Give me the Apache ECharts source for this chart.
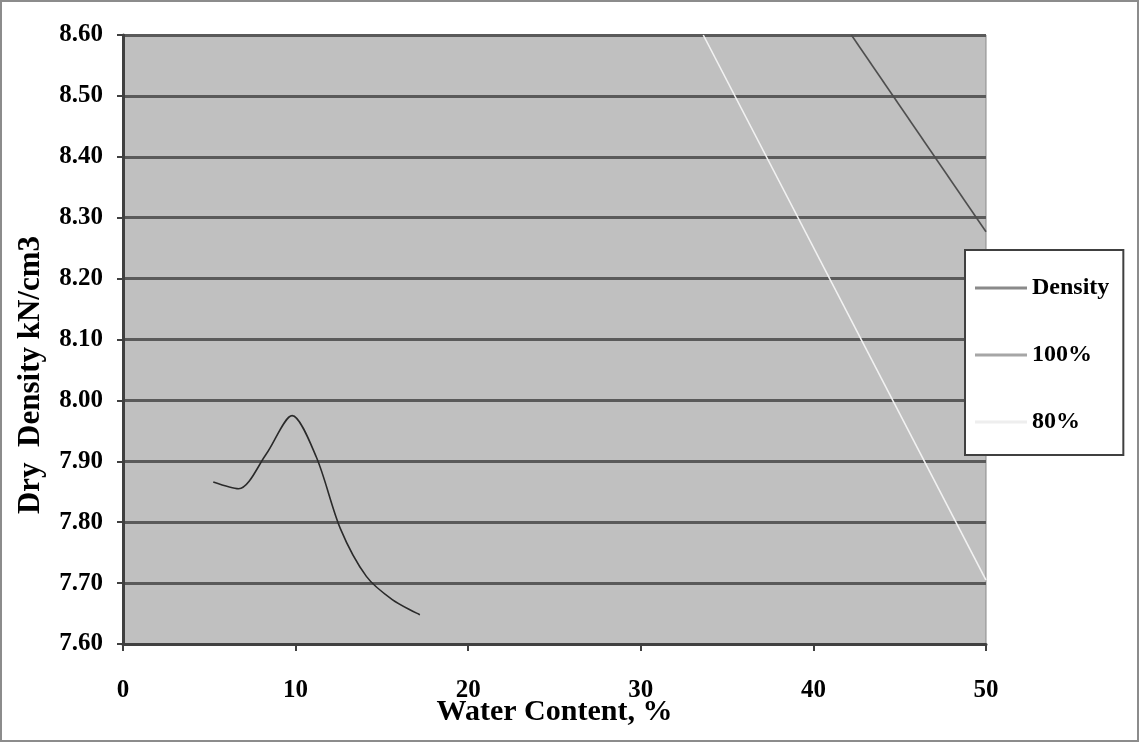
<!DOCTYPE html>
<html>
<head>
<meta charset="utf-8">
<title>Dry Density vs Water Content</title>
<script src="https://cdn.jsdelivr.net/npm/echarts@6/dist/echarts.min.js"></script>
<style>
  html, body { margin: 0; padding: 0; background: #ffffff; }
  #chart { width: 1139px; height: 742px; }
</style>
</head>
<body>
<div id="chart"></div>
<script>
// Compaction curve: water content (%) vs dry density (kN/cm3)
const densityW = [5.23, 6.7, 8.3, 9.8, 11.2, 12.6, 14.1, 15.6, 17.2];
const densityD = [7.866, 7.855, 7.912, 7.975, 7.907, 7.789, 7.711, 7.673, 7.648];

// Saturation lines (100% and 80%)
const sat100W = [42.2, 50];
const sat100D = [8.60, 8.277];
const sat80W = [33.62, 50];
const sat80D = [8.60, 7.705];

const seriesNames = ['Density', '100%', '80%'];
const xTicks = [0, 10, 20, 30, 40, 50];
const yMin = 7.6, yMax = 8.6, yStep = 0.1;

const pairs = (xs, ys) => xs.map((x, i) => [x, ys[i]]);
const serif = 'Liberation Serif, Times New Roman, serif';

const chart = echarts.init(document.getElementById('chart'), null, { renderer: 'canvas' });

chart.setOption({
  animation: false,
  backgroundColor: '#ffffff',
  grid: {
    left: 123, right: 153, top: 35, bottom: 98,
    show: true,
    backgroundColor: '#c0c0c0',
    borderColor: '#8a8a8a',
    borderWidth: 1
  },
  xAxis: {
    type: 'value',
    min: xTicks[0], max: xTicks[xTicks.length - 1], interval: 10,
    name: 'Water Content, %',
    nameLocation: 'middle',
    nameGap: 53,
    nameMoveOverlap: false,
    nameTextStyle: { fontFamily: serif, fontWeight: 'bold', fontSize: 30, color: '#000' },
    axisLine: { show: true, onZero: false, lineStyle: { color: '#404040', width: 3 } },
    axisTick: { show: true, inside: false, length: 7, lineStyle: { color: '#404040', width: 2 } },
    axisLabel: { margin: 34, fontFamily: serif, fontWeight: 'bold', fontSize: 25, color: '#000' },
    splitLine: { show: false }
  },
  yAxis: {
    type: 'value',
    min: yMin, max: yMax, interval: yStep,
    axisLine: { show: true, onZero: false, lineStyle: { color: '#404040', width: 3 } },
    axisTick: { show: true, inside: false, length: 6, lineStyle: { color: '#404040', width: 2 } },
    axisLabel: {
      margin: 20, fontFamily: serif, fontWeight: 'bold', fontSize: 25, color: '#000',
      formatter: v => v.toFixed(2)
    },
    splitLine: { show: true, lineStyle: { color: '#5a5a5a', width: 3 } }
  },
  legend: {
    orient: 'vertical',
    left: 965, top: 250,
    padding: [26, 14, 21, 10],
    itemGap: 43,
    itemWidth: 52, itemHeight: 3,
    icon: 'rect',
    backgroundColor: '#ffffff',
    borderColor: '#404040',
    borderWidth: 2,
    textStyle: { fontFamily: serif, fontWeight: 'bold', fontSize: 24, color: '#000' },
    data: [
      { name: seriesNames[0], itemStyle: { color: '#8a8a8a' } },
      { name: seriesNames[1], itemStyle: { color: '#a6a6a6' } },
      { name: seriesNames[2], itemStyle: { color: '#eeeeee' } }
    ]
  },
  series: [
    {
      name: seriesNames[0], type: 'line', data: pairs(densityW, densityD),
      smooth: 0.3, showSymbol: false, symbol: 'none', clip: true,
      lineStyle: { color: '#2a2a2a', width: 1.6 }, itemStyle: { color: '#2a2a2a' }
    },
    {
      name: seriesNames[1], type: 'line', data: pairs(sat100W, sat100D),
      showSymbol: false, symbol: 'none', clip: true,
      lineStyle: { color: '#4e4e4e', width: 1.6 }, itemStyle: { color: '#4e4e4e' }
    },
    {
      name: seriesNames[2], type: 'line', data: pairs(sat80W, sat80D),
      showSymbol: false, symbol: 'none', clip: true,
      lineStyle: { color: '#f2f2f2', width: 1.6 }, itemStyle: { color: '#f2f2f2' }
    }
  ],
  graphic: [
    {
      type: 'text',
      x: 31, y: 375,
      rotation: Math.PI / 2,
      style: {
        text: 'Dry  Density kN/cm3',
        font: 'bold 31px ' + serif,
        fill: '#000',
        textAlign: 'center',
        textVerticalAlign: 'middle'
      }
    },
    {
      type: 'rect',
      silent: true,
      shape: { x: 1, y: 1, width: 1137, height: 740 },
      style: { fill: 'none', stroke: '#8c8c8c', lineWidth: 2 }
    }
  ]
});
</script>
</body>
</html>
